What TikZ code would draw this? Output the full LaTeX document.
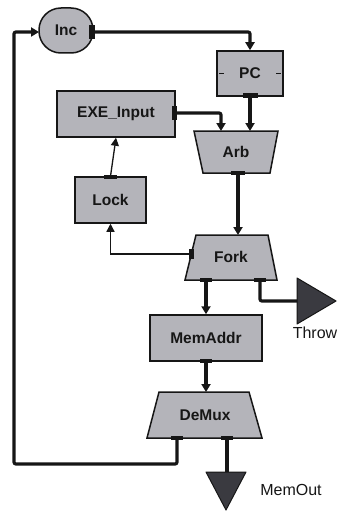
\documentclass[tikz,border=0pt]{standalone}
\usepackage{fontspec}
\setmainfont{Liberation Sans}
\usetikzlibrary{arrows.meta}
\definecolor{boxfill}{RGB}{180,180,186}
\definecolor{trifill}{RGB}{58,58,64}
\definecolor{ink}{RGB}{22,22,22}
\begin{document}
\begin{tikzpicture}[x=1pt,y=-1pt,
  blk/.style={draw=ink,line width=1.5pt,fill=boxfill},
  lbl/.style={font=\fontsize{15.5}{15.5}\selectfont\bfseries,text=ink},
  wire/.style={draw=ink,line width=3.2pt,rounded corners=2pt},
  thinwire/.style={draw=ink,line width=1.3pt},
  arr/.style={-{Triangle[length=8pt,width=9pt]}},
  tarr/.style={-{Triangle[length=8pt,width=8pt]}},
  port/.style={fill=ink},
  outtri/.style={fill=trifill,draw=ink,line width=1pt,line join=round},
  olbl/.style={font=\fontsize{16}{16}\selectfont,text=ink}
]
\useasboundingbox (0,0) rectangle (337,511);
\fill[white] (0,0) rectangle (337,511);

% boxes
\node[blk,rounded corners=22pt,minimum width=54pt,minimum height=45pt,inner sep=0pt,lbl] (inc) at (66,30.5) {Inc};
\node[blk,minimum width=66pt,minimum height=45pt,inner sep=0pt,lbl] (pc) at (250,73.5) {PC};
\node[blk,minimum width=118pt,minimum height=46pt,inner sep=0pt,lbl] (exe) at (116,114) {EXE\_Input};
\node[blk,minimum width=71pt,minimum height=46pt,inner sep=0pt,lbl] (lock) at (110.5,200) {Lock};
\node[blk,minimum width=112pt,minimum height=46pt,inner sep=0pt,lbl] (mem) at (206,338) {MemAddr};

% trapezoids
\draw[blk] (194,131) -- (278,131) -- (270,173) -- (203,173) -- cycle;
\node[lbl] (arb) at (236,152) {Arb};
\draw[blk] (196,235) -- (268,235) -- (277,280) -- (185,280) -- cycle;
\node[lbl] (fork) at (231,257) {Fork};
\draw[blk] (159,392) -- (249,392) -- (262,438) -- (147,438) -- cycle;
\node[lbl] (demux) at (205,415) {DeMux};

% output triangles
\draw[outtri] (297,278) -- (336,301) -- (297,324) -- cycle;
\coordinate (throwin) at (297,301);
\node[olbl] (throw) at (315,333) {Throw};
\draw[outtri] (206,472) -- (246,472) -- (226,510) -- cycle;
\coordinate (memoutin) at (227,472);
\node[olbl] (memout) at (291,490) {MemOut};

% port coordinates
\coordinate (incout) at (93,32);
\coordinate (incin) at (39,32);
\coordinate (exeout) at (175,113);
\coordinate (arbin1) at (221,131);
\coordinate (arbin2) at (250,131);
\coordinate (arbout) at (238,173);
\coordinate (forkin) at (238,235);
\coordinate (forkl) at (191,254);
\coordinate (forkb1) at (206,280);
\coordinate (forkb2) at (260,280);
\coordinate (demuxin) at (206,392);
\coordinate (demuxb1) at (177,438);
\coordinate (demuxb2) at (227,438);

% wires
\draw[wire,arr] (incout) -- (pc.north |- incout) -- (pc.north);
\draw[wire,arr] (pc.south) -- (arbin2);
\draw[wire,arr] (exeout) -- (arbin1 |- exeout) -- (arbin1);
\draw[wire,arr] (arbout) -- (forkin);
\draw[wire,arr] (forkb1) -- (mem.north);
\draw[wire] (forkb2) -- (forkb2 |- throwin) -- (throwin);
\draw[wire,arr] (mem.south) -- (demuxin);
\draw[wire] (demuxb2) -- (memoutin);
\draw[wire,arr] (demuxb1) -- (177,464) -- (14,464) -- (14,32) -- (incin);
\draw[thinwire,tarr] (lock.north) -- (exe.south);
\draw[thinwire,tarr] (forkl) -- (lock.south |- forkl) -- (lock.south);

% port tabs
\fill[port] (89,25) rectangle (95,39);
\fill[port] (243,93) rectangle (258,98);
\fill[port] (172,106) rectangle (177,120);
\fill[port] (231,171) rectangle (245,175);
\fill[port] (104,175) rectangle (117,179);
\fill[port] (189,249) rectangle (194,259);
\fill[port] (200,278) rectangle (212,282);
\fill[port] (254,278) rectangle (266,282);
\fill[port] (200,359) rectangle (212,363);
\fill[port] (171,436) rectangle (183,440);
\fill[port] (221,436) rectangle (233,440);
% PC side ticks
\draw[ink,line width=1pt] (219,73.5) -- (224,73.5);
\draw[ink,line width=1pt] (276,73.5) -- (281,73.5);
\end{tikzpicture}
\end{document}
